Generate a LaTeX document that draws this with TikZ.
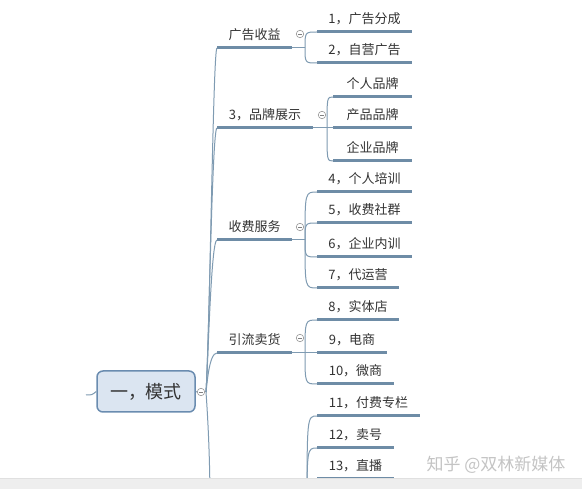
\documentclass[tikz,border=0pt]{standalone}
\usepackage{fontspec}
\setmainfont{Noto Sans CJK SC}
\definecolor{uline}{HTML}{6E8CA6}
\definecolor{tline}{HTML}{7F9BB2}
\definecolor{rootfill}{HTML}{DBE5F1}
\definecolor{rootdraw}{HTML}{6A8CB0}
\definecolor{txt}{HTML}{333333}
\definecolor{barfill}{HTML}{EEEEEE}
\definecolor{barline}{HTML}{E0E0E0}
\definecolor{wm}{HTML}{C4C4C4}
\tikzset{
  topic/.style={inner sep=0pt, outer sep=0pt, anchor=south, minimum height=24pt,
    text height=0.82em, text depth=0.12em, text=txt, font=\fontsize{13}{13}\selectfont},
  ulinestyle/.style={draw=uline, line width=3pt},
  thinline/.style={draw=tline, line width=1pt},
  rootbox/.style={draw=rootdraw, line width=1.5pt, fill=rootfill, rounded corners=6pt,
    minimum width=98pt, minimum height=41pt, inner sep=0pt, text=txt,
    font=\fontsize{18}{18}\selectfont},
  collapse/.style={circle, draw=black!40, line width=0.6pt, fill=white, minimum size=7.5pt, inner sep=0pt,
    path picture={\draw[black!50, line width=0.6pt] ([xshift=-2.2pt]path picture bounding box.center) -- ([xshift=2.2pt]path picture bounding box.center);}}
}
\newcommand\mytopic[5]{%
  \node[topic, minimum width={#3-#2}] (#1) at ({(#2+#3)/2},#4) {#5};
  \draw[ulinestyle] (#1.south west) -- (#1.south east);}
\newcommand\mybrk[2]{\draw[thinline] (#1) .. controls (#1 |- #2.south west) .. (#2.south west);}
\begin{document}
\begin{tikzpicture}[x=1pt,y=-1pt]
\useasboundingbox (0,0) rectangle (582,489);
\clip (0,0) rectangle (582,489);
\fill[white] (0,0) rectangle (582,489);

% root
\node[rootbox] (root) at (146,391.5) {一，模式};
\node[collapse] (rc) at (201,392) {};
\coordinate (in) at (86,395);
\coordinate (J) at (206,392);
\draw[thinline] (in) .. controls (92,395) .. (root.west);
\draw[thinline] (root.east) -- (rc.west);
\draw[thinline] (rc.east) -- (J);

% level 1
\mytopic{A}{217}{292}{48}{广告收益}
\mytopic{B}{217}{313}{128}{3，品牌展示}
\mytopic{C}{217}{292}{240}{收费服务}
\mytopic{D}{217}{292}{353}{引流卖货}
\coordinate (E) at (210,505);

\draw[thinline] (J) .. controls (210,330) and (213,48) .. (A.south west);
\draw[thinline] (J) .. controls (209,345) and (212,128) .. (B.south west);
\draw[thinline] (J) .. controls (208,365) and (211,240) .. (C.south west);
\draw[thinline] (J) .. controls (207,385) and (209,353) .. (D.south west);
\draw[thinline] (J) .. controls (208,420) and (210,460) .. (E);

\node[collapse] (cA) at (300,34) {};
\node[collapse] (cB) at (322,115) {};
\node[collapse] (cC) at (300,227) {};
\node[collapse] (cD) at (300,338) {};

% children of A
\coordinate (jA) at (305,48);
\draw[thinline] (A.south east) -- (jA);
\mytopic{a1}{317}{412}{32}{1，广告分成}
\mytopic{a2}{317}{412}{63}{2，自营广告}
\mybrk{jA}{a1}
\mybrk{jA}{a2}

% children of B
\coordinate (jB) at (327,128);
\draw[thinline] (B.south east) -- (jB);
\mytopic{b1}{333}{412}{97}{个人品牌}
\mytopic{b2}{333}{412}{128}{产品品牌}
\mytopic{b3}{333}{412}{161}{企业品牌}
\mybrk{jB}{b1}
\draw[thinline] (jB) -- (b2.south west);
\mybrk{jB}{b3}

% children of C
\coordinate (jC) at (305,240);
\draw[thinline] (C.south east) -- (jC);
\mytopic{c1}{317}{412}{192}{4，个人培训}
\mytopic{c2}{317}{412}{223}{5，收费社群}
\mytopic{c3}{317}{412}{257}{6，企业内训}
\mytopic{c4}{317}{399}{288}{7，代运营}
\mybrk{jC}{c1}
\mybrk{jC}{c2}
\mybrk{jC}{c3}
\mybrk{jC}{c4}

% children of D
\coordinate (jD) at (305,353);
\draw[thinline] (D.south east) -- (jD);
\mytopic{d1}{317}{399}{320}{8，实体店}
\mytopic{d2}{317}{387}{353}{9，电商}
\mytopic{d3}{317}{394}{384}{10，微商}
\mybrk{jD}{d1}
\draw[thinline] (jD) -- (d2.south west);
\mybrk{jD}{d3}

% children of hidden branch
\coordinate (jE) at (307,515);
\mytopic{e1}{317}{420}{416}{11，付费专栏}
\mytopic{e2}{317}{394}{448}{12，卖号}
\mytopic{e3}{317}{394}{479}{13，直播}
\mybrk{jE}{e1}
\mybrk{jE}{e2}
\mybrk{jE}{e3}

% bottom bar and watermark
\fill[barfill] (0,478) rectangle (582,489);
\draw[barline, line width=0.8pt] (0,478) -- (582,478);
\node[text=wm, font=\fontsize{17}{17}\selectfont, inner sep=0pt] (wmark) at (496,464.5) {知乎 @双林新媒体};
\end{tikzpicture}
\end{document}
